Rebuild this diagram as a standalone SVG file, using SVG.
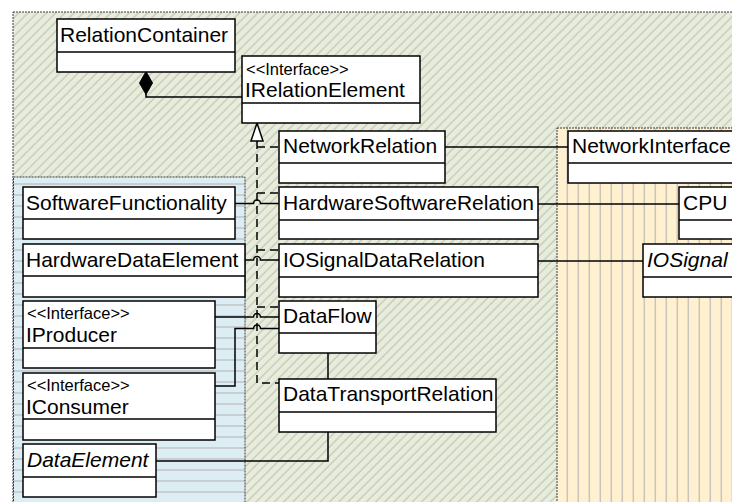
<svg xmlns="http://www.w3.org/2000/svg" width="732" height="502" viewBox="0 0 732 502">
  <defs>
    <style>
      .pkg { stroke: #3a3a3a; stroke-width: 1; stroke-dasharray: 2 1; }
      .box { fill: #ffffff; stroke: #000000; stroke-width: 1.5; }
      .sep { stroke: #000000; stroke-width: 1.5; fill: none; }
      .lbl { font-family: "Liberation Sans", Arial, sans-serif; font-size: 21px; fill: #000000; }
      .ital { font-style: italic; }
      .stereo { font-family: "Liberation Sans", Arial, sans-serif; font-size: 16.5px; fill: #000000; }
      .conn { fill: none; stroke: #000000; stroke-width: 1.5; }
      .real { fill: none; stroke: #000000; stroke-width: 1.5; stroke-dasharray: 8 5; }
    </style>
    <!-- package fills -->
    <pattern id="hatchGreen" width="6.5" height="6.5" patternUnits="userSpaceOnUse" patternTransform="rotate(45)">
      <rect width="6.5" height="6.5" fill="#E8EDDB"/>
      <line x1="3" y1="0" x2="3" y2="6.5" stroke="#C4C7BC" stroke-width="1.3"/>
    </pattern>
    <pattern id="linesBlue" width="20" height="11" patternUnits="userSpaceOnUse">
      <rect width="20" height="11" fill="#DCEDF4"/>
      <line x1="0" y1="8" x2="20" y2="8" stroke="#C2C6C9" stroke-width="1.5"/>
    </pattern>
    <pattern id="linesOrange" width="11" height="20" patternUnits="userSpaceOnUse">
      <rect width="11" height="20" fill="#FFF1CF"/>
      <line x1="6.3" y1="0" x2="6.3" y2="20" stroke="#C9C5BD" stroke-width="1.5"/>
    </pattern>
  </defs>

  <rect width="732" height="502" fill="#ffffff"/>

  <!-- packages -->
  <g id="pkg-relations">
    <rect class="pkg" x="13" y="12" width="740" height="510" fill="url(#hatchGreen)"/>
  </g>
  <g id="pkg-software">
    <rect class="pkg" x="13.5" y="177" width="231.5" height="340" fill="url(#linesBlue)"/>
  </g>
  <g id="pkg-hardware">
    <rect class="pkg" x="557" y="128" width="200" height="390" fill="url(#linesOrange)"/>
  </g>

  <!-- connectors -->
  <g id="connectors">
    <!-- composition -->
    <path class="conn" d="M146 94 V97 H242"/>
    <polygon points="146,71.5 152.5,83 146,94.5 139.5,83" fill="#000000" stroke="#000000" stroke-width="1"/>
    <!-- realizations of IRelationElement -->
    <path class="real" d="M257 141 V383 H279"/>
    <path class="real" d="M257 147 H279"/>
    <path class="real" d="M257 193 H279"/>
    <path class="real" d="M257 250 H279"/>
    <path class="real" d="M257 307 H279"/>
    <polygon points="257,123 263,141 251,141" fill="#ffffff" stroke="#000000" stroke-width="1.5"/>
    <!-- associations -->
    <path class="conn" d="M445 147 H568"/>
    <path class="conn" d="M538 204 H679"/>
    <path class="conn" d="M538 261 H643"/>
    <path class="conn" d="M235 203.5 H253.5 A3.5 3.5 0 0 1 260.5 203.5 H279"/>
    <path class="conn" d="M245 260 H253.5 A3.5 3.5 0 0 1 260.5 260 H279"/>
    <path class="conn" d="M215 317 H253.5 A3.5 3.5 0 0 1 260.5 317 H279"/>
    <path class="conn" d="M215 386 H235 V328.5 H253.5 A3.5 3.5 0 0 1 260.5 328.5 H279"/>
    <path class="conn" d="M328 353 V379"/>
    <path class="conn" d="M328 432 V461 H156"/>
  </g>

  <!-- classes -->
  <g id="RelationContainer">
    <rect class="box" x="57" y="19" width="178" height="53"/>
    <line class="sep" x1="57" y1="52" x2="235" y2="52"/>
    <text class="lbl" x="60" y="42">RelationContainer</text>
  </g>
  <g id="IRelationElement">
    <rect class="box" x="242" y="56" width="178" height="67"/>
    <line class="sep" x1="242" y1="103" x2="420" y2="103"/>
    <text class="stereo" x="246" y="74.5">&lt;&lt;Interface&gt;&gt;</text>
    <text class="lbl" x="245" y="97">IRelationElement</text>
  </g>
  <g id="NetworkRelation">
    <rect class="box" x="279" y="131" width="166" height="52"/>
    <line class="sep" x1="279" y1="163" x2="445" y2="163"/>
    <text class="lbl" x="283" y="153">NetworkRelation</text>
  </g>
  <g id="HardwareSoftwareRelation">
    <rect class="box" x="279" y="187" width="259" height="52"/>
    <line class="sep" x1="279" y1="220" x2="538" y2="220"/>
    <text class="lbl" x="283" y="210">HardwareSoftwareRelation</text>
  </g>
  <g id="IOSignalDataRelation">
    <rect class="box" x="279" y="244" width="259" height="53"/>
    <line class="sep" x1="279" y1="277" x2="538" y2="277"/>
    <text class="lbl" x="283" y="267">IOSignalDataRelation</text>
  </g>
  <g id="DataFlow">
    <rect class="box" x="279" y="301" width="97" height="52"/>
    <line class="sep" x1="279" y1="333" x2="376" y2="333"/>
    <text class="lbl" x="283" y="323">DataFlow</text>
  </g>
  <g id="DataTransportRelation">
    <rect class="box" x="279" y="379" width="217" height="53"/>
    <line class="sep" x1="279" y1="412" x2="496" y2="412"/>
    <text class="lbl" x="283" y="401">DataTransportRelation</text>
  </g>
  <g id="SoftwareFunctionality">
    <rect class="box" x="23" y="187" width="212" height="52"/>
    <line class="sep" x1="23" y1="219" x2="235" y2="219"/>
    <text class="lbl" x="26" y="210">SoftwareFunctionality</text>
  </g>
  <g id="HardwareDataElement">
    <rect class="box" x="23" y="244" width="222" height="53"/>
    <line class="sep" x1="23" y1="276" x2="245" y2="276"/>
    <text class="lbl" x="26" y="267">HardwareDataElement</text>
  </g>
  <g id="IProducer">
    <rect class="box" x="23" y="301" width="192" height="67"/>
    <line class="sep" x1="23" y1="348" x2="215" y2="348"/>
    <text class="stereo" x="27" y="319">&lt;&lt;Interface&gt;&gt;</text>
    <text class="lbl" x="26" y="342">IProducer</text>
  </g>
  <g id="IConsumer">
    <rect class="box" x="23" y="373" width="192" height="67"/>
    <line class="sep" x1="23" y1="419" x2="215" y2="419"/>
    <text class="stereo" x="27" y="391">&lt;&lt;Interface&gt;&gt;</text>
    <text class="lbl" x="26" y="414">IConsumer</text>
  </g>
  <g id="DataElement">
    <rect class="box" x="23" y="444" width="133" height="53"/>
    <line class="sep" x1="23" y1="477" x2="156" y2="477"/>
    <text class="lbl ital" x="27" y="467">DataElement</text>
  </g>
  <g id="NetworkInterface">
    <rect class="box" x="568" y="131" width="180" height="52"/>
    <line class="sep" x1="568" y1="163" x2="748" y2="163"/>
    <text class="lbl" x="572" y="153">NetworkInterface</text>
  </g>
  <g id="CPU">
    <rect class="box" x="679" y="187" width="80" height="52"/>
    <line class="sep" x1="679" y1="220" x2="759" y2="220"/>
    <text class="lbl" x="683" y="210">CPU</text>
  </g>
  <g id="IOSignal">
    <rect class="box" x="643" y="244" width="110" height="53"/>
    <line class="sep" x1="643" y1="277" x2="753" y2="277"/>
    <text class="lbl ital" x="647" y="267">IOSignal</text>
  </g>
</svg>
